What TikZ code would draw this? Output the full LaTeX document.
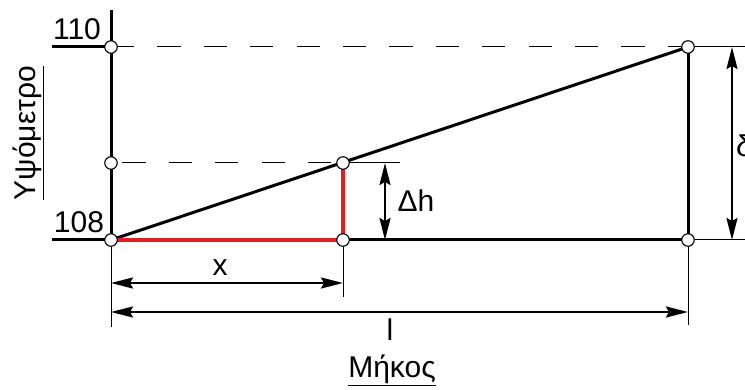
\documentclass[tikz,border=0pt]{standalone}
\usepackage{fontspec}
\setmainfont{Liberation Sans}
\usetikzlibrary{arrows.meta,positioning}
\definecolor{lnred}{RGB}{226,30,36}

\begin{document}
\begin{tikzpicture}[x=1pt, y=-1pt, >={Stealth[length=22pt, width=11pt, inset=3pt]},
    font=\fontsize{30}{36}\selectfont,
    thk/.style={line width=3pt},
    thn/.style={line width=1pt},
    dsh/.style={line width=1pt, dash pattern=on 23.2pt off 23.2pt},
    redln/.style={line width=3.4pt, draw=lnred},
    dimln/.style={line width=2.4pt, <->},
    pt/.style={circle, draw, fill=white, line width=1.1pt, minimum size=12.5pt, inner sep=0pt},
    lab/.style={inner sep=0pt}]
  \useasboundingbox (0,0) rectangle (745,390);
  % axis points
  \coordinate (top)  at (111,10);
  \coordinate (h110) at (111,47);
  \coordinate (hmid) at (111,163);
  \coordinate (h108) at (111,240);
  \coordinate (hx)   at (111,327);
  \coordinate (t110) at (52,47);
  \coordinate (t108) at (52,240);
  % middle and right
  \coordinate (q)   at (343,163);
  \coordinate (qb)  at (343,240);
  \coordinate (qx)  at (343,297);
  \coordinate (qe)  at (400,163);
  \coordinate (r)   at (688,47);
  \coordinate (rb)  at (688,240);
  \coordinate (rx)  at (688,325);
  \coordinate (re)  at (745,47);
  \coordinate (rbe) at (745,240);
  % dimension ends
  \coordinate (dh1) at (385,163);
  \coordinate (dh2) at (385,240);
  \coordinate (d1)  at (732,47);
  \coordinate (d2)  at (732,240);
  \coordinate (x1)  at (111,283);
  \coordinate (x2)  at (343,283);
  \coordinate (l1)  at (111,312);
  \coordinate (l2)  at (688,312);

  % helper lines
  \draw[dsh] (h110) -- (r);
  \draw[dsh, dash phase=35pt] (hmid) -- (q);
  \draw[thn] (q) -- (qe);
  \draw[thn] (r) -- (re);
  \draw[thn] (rb) -- (rbe);
  \draw[thn] (h108) -- (hx);
  \draw[thn] (qb) -- (qx);
  \draw[thn] (rb) -- (rx);
  % main lines
  \draw[thk] (top) -- (h108);
  \draw[thk] (t110) -- (h110);
  \draw[thk] (t108) -- (h108);
  \draw[thk] (h108) -- (r);
  \draw[thk] (qb) -- (rb);
  \draw[thk] (r) -- (rb);
  \draw[redln] (h108) -- (qb);
  \draw[redln] (q) -- (qb);
  % dimensions
  \draw[dimln] (dh1) -- (dh2);
  \draw[dimln] (d1) -- (d2);
  \draw[dimln] (x1) -- (x2);
  \draw[dimln] (l1) -- (l2);
  % points
  \foreach \p in {h110,hmid,h108,q,qb,r,rb}
    \node[pt] (c\p) at (\p) {};

  % labels
  \node[lab] (l110) at (77,29) {110};
  \node[lab] (l108) at (79,222) {108};
  \node[lab, rotate=90] (yax) at (28,133) {\underline{Υψόμετρο}};
  \node[lab] (ldh) at (416,201) {Δh};
  \node[lab] (lx) at (220,268) {x};
  \node[lab] (ll) at (390,330) {l};
  \node[lab] (lm) at (392,370) {\underline{Μήκος}};
  \node[lab, anchor=west] (ld) at (736,146) {δ};
\end{tikzpicture}
\end{document}
